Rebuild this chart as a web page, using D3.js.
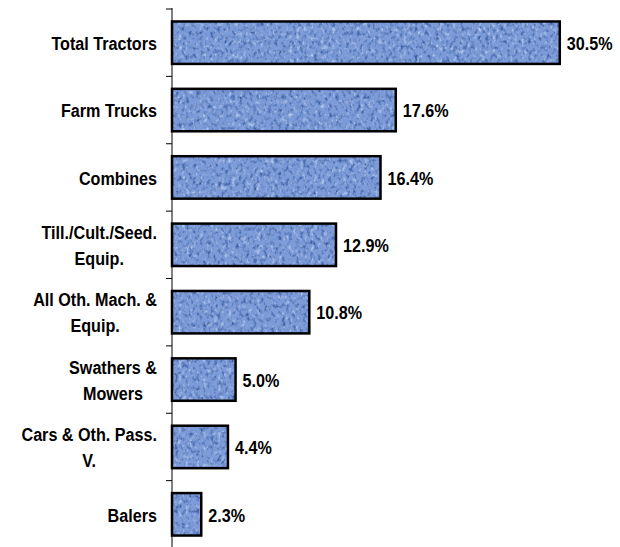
<!DOCTYPE html>
<html>
<head>
<meta charset="utf-8">
<script src="https://cdn.jsdelivr.net/npm/d3@7"></script>
<style>
  body { margin: 0; background: #fff; }
  text { font-family: "Liberation Sans", Arial, sans-serif; font-weight: bold; fill: #000; }
</style>
</head>
<body>
<div id="chart"></div>
<script>
// categories, top to bottom (line breaks as in the picture)
var categories = [
  "Total Tractors",
  "Farm Trucks",
  "Combines",
  "Till./Cult./Seed.|Equip.",
  "All Oth. Mach. &|Equip.",
  "Swathers &|Mowers",
  "Cars & Oth. Pass.|V.",
  "Balers"
];
var shares = [30.5, 17.6, 16.4, 12.9, 10.8, 5.0, 4.4, 2.3];
var valueLabels = ["30.5%", "17.6%", "16.4%", "12.9%", "10.8%", "5.0%", "4.4%", "2.3%"];

(function () {
  var width = 620, height = 547;
  var left = 172, plotTop = 9, plotBottom = 548;
  var squeeze = 0.85; // labels in the picture are condensed

  var svg = d3.select("#chart").append("svg")
    .attr("width", width)
    .attr("height", height);

  // cloth-like blue texture for the bars: dark and light blotches on a mid blue
  var defs = svg.append("defs");
  var f = defs.append("filter").attr("id", "cloth")
    .attr("x", 0).attr("y", 0).attr("width", 1).attr("height", 1);
  f.append("feTurbulence").attr("type", "fractalNoise")
    .attr("baseFrequency", "0.28 0.22").attr("numOctaves", 2).attr("seed", 7)
    .attr("result", "noise");
  f.append("feColorMatrix").attr("in", "noise").attr("type", "matrix")
    .attr("values", "0 0 0 0 0  0 0 0 0 0  0 0 0 0 0  3 0 0 0 -1.45")
    .attr("result", "darkMask");
  f.append("feColorMatrix").attr("in", "noise").attr("type", "matrix")
    .attr("values", "0 0 0 0 0  0 0 0 0 0  0 0 0 0 0  0 -3 0 0 1.35")
    .attr("result", "lightMask");
  f.append("feFlood").attr("flood-color", "#395ea5").attr("result", "dark");
  f.append("feComposite").attr("in", "dark").attr("in2", "darkMask").attr("operator", "in").attr("result", "darkSpots");
  f.append("feFlood").attr("flood-color", "#b9ccf0").attr("result", "light");
  f.append("feComposite").attr("in", "light").attr("in2", "lightMask").attr("operator", "in").attr("result", "lightSpots");
  f.append("feMerge").selectAll("feMergeNode")
    .data(["SourceGraphic", "lightSpots", "darkSpots"]).enter().append("feMergeNode")
    .attr("in", function (d) { return d; });

  var x = d3.scaleLinear().domain([0, 35]).range([left, left + 445]);
  var y = d3.scaleBand().domain(categories).range([plotTop, plotBottom])
    .paddingInner(0.37).paddingOuter(0.185);
  var step = y.step();

  // axis line with ticks on band boundaries
  var axis = svg.append("g");
  axis.append("line")
    .attr("x1", left).attr("x2", left)
    .attr("y1", plotTop - 1).attr("y2", height)
    .attr("stroke", "#000").attr("stroke-width", 1);
  axis.selectAll(".tick")
    .data(d3.range(categories.length + 1))
    .enter().append("line")
    .attr("class", "tick")
    .attr("x1", left - 6).attr("x2", left)
    .attr("y1", function (i) { return plotTop + i * step; })
    .attr("y2", function (i) { return plotTop + i * step; })
    .attr("stroke", "#000").attr("stroke-width", 1);

  var rows = svg.selectAll(".row")
    .data(categories)
    .enter().append("g")
    .attr("class", "row");

  rows.append("rect")
    .attr("x", left)
    .attr("y", function (d) { return y(d); })
    .attr("width", function (d, i) { return x(shares[i]) - left; })
    .attr("height", y.bandwidth())
    .attr("fill", "#7c9bd8")
    .attr("filter", "url(#cloth)");

  rows.append("rect")
    .attr("x", left)
    .attr("y", function (d) { return y(d); })
    .attr("width", function (d, i) { return x(shares[i]) - left; })
    .attr("height", y.bandwidth())
    .attr("fill", "none")
    .attr("stroke", "#000")
    .attr("stroke-width", 2.5);

  // category labels: block right aligned at the axis, lines centred in the block
  rows.append("text")
    .attr("text-anchor", "middle")
    .attr("font-size", 19)
    .each(function (d) {
      var lines = d.split("|");
      var lh = 26;
      var t = d3.select(this);
      var spans = lines.map(function (s, k) {
        return t.append("tspan")
          .attr("x", 0)
          .attr("y", (k - (lines.length - 1) / 2) * lh)
          .attr("dy", "0.38em")
          .text(s);
      });
      var w = d3.max(spans, function (sp) { return sp.node().getComputedTextLength(); });
      var cx = (left - 15) / squeeze - w / 2;
      spans.forEach(function (sp) { sp.attr("x", cx); });
      t.attr("transform", "translate(0," + (y(d) + y.bandwidth() / 2) + ") scale(" + squeeze + ",1)");
    });

  // value labels
  rows.append("text")
    .attr("transform", function (d, i) {
      return "translate(" + (x(shares[i]) + 7) + "," + (y(d) + y.bandwidth() / 2) + ") scale(" + squeeze + ",1)";
    })
    .attr("dy", "0.38em")
    .attr("font-size", 19)
    .text(function (d, i) { return valueLabels[i]; });
})();
</script>
</body>
</html>
